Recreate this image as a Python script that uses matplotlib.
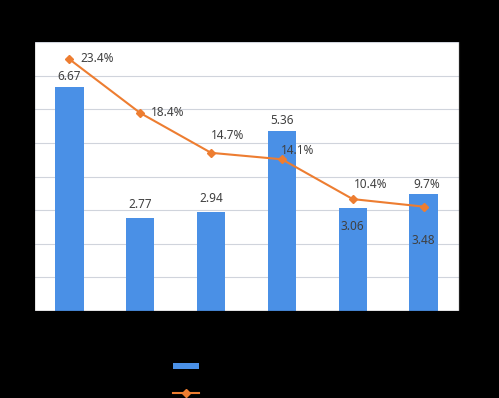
import matplotlib.pyplot as plt
from matplotlib.ticker import PercentFormatter

values = [6.67, 2.77, 2.94, 5.36, 3.06, 3.48]
rates = [23.4, 18.4, 14.7, 14.1, 10.4, 9.7]
value_labels = ["6.67", "2.77", "2.94", "5.36", "3.06", "3.48"]
rate_labels = ["23.4%", "18.4%", "14.7%", "14.1%", "10.4%", "9.7%"]

BAR_COLOR = "#4a90e6"
LINE_COLOR = "#ed7d31"
TEXT_COLOR = "#404040"

plt.rcParams["font.family"] = ["Noto Sans", "DejaVu Sans"]

fig = plt.figure(figsize=(4.99, 3.98), dpi=100, facecolor="black")
ax = fig.add_axes([34 / 499, 87 / 398, 425 / 499, 269 / 398])
ax.set_facecolor("white")

x = list(range(len(values)))
ax.bar(x, values, width=0.4, color=BAR_COLOR, zorder=2, label=" ")
ax.set_xlim(-0.5, len(values) - 0.5)
ax.set_ylim(0, 8)
ax.set_yticks(range(0, 9))
ax.grid(axis="y", color="#d0d4dc", linewidth=0.8, zorder=0)
ax.set_xticks([i + 0.5 for i in x[:-1]])
ax.set_xticklabels([])
ax.tick_params(colors="black", labelcolor="black", length=3, labelsize=8)
ax.spines["top"].set_visible(False)
for s in ["left", "bottom", "right"]:
    ax.spines[s].set_color("#202020")

# value labels: offsets in points (above or inside bars)
bar_offsets = [(0, 3), (0, 5), (0, 5), (0, 3), (0, -18), (0, -38)]
for xi, v, lab, off in zip(x, values, value_labels, bar_offsets):
    ax.annotate(lab, (xi, v), xytext=off, textcoords="offset points",
                ha="center", va="bottom", fontsize=8.5, color=TEXT_COLOR, zorder=5)

ax2 = ax.twinx()
ax2.plot(x, [r / 100 for r in rates], color=LINE_COLOR, marker="D", markersize=4.5,
         linewidth=1.5, zorder=3, label=" ")
ax2.set_ylim(0, 0.25)
ax2.set_yticks([0, 0.05, 0.10, 0.15, 0.20, 0.25])
ax2.yaxis.set_major_formatter(PercentFormatter(1.0, decimals=0))
ax2.tick_params(colors="black", labelcolor="black", length=3, labelsize=8)
ax2.spines["top"].set_visible(False)
ax2.spines["right"].set_color("#202020")

rate_offsets = [(8, -4), (8, -4), (12, 8), (-1, 2), (13, 6), (2, 11)]
rate_ha = ["left", "left", "center", "left", "center", "center"]
for xi, r, lab, off, ha in zip(x, rates, rate_labels, rate_offsets, rate_ha):
    ax2.annotate(lab, (xi, r / 100), xytext=off, textcoords="offset points",
                 ha=ha, va="bottom", fontsize=8.5, color=TEXT_COLOR, zorder=5)

h1, l1 = ax.get_legend_handles_labels()
h2, l2 = ax2.get_legend_handles_labels()
leg = fig.legend(h1 + h2, l1 + l2, loc="center", bbox_to_anchor=(192 / 499, 1 - 381 / 398),
                 frameon=False, handlelength=2.3, handleheight=0.4, labelspacing=1.4,
                 fontsize=8, labelcolor="black")

fig.savefig("out.png", dpi=100, facecolor="black")
